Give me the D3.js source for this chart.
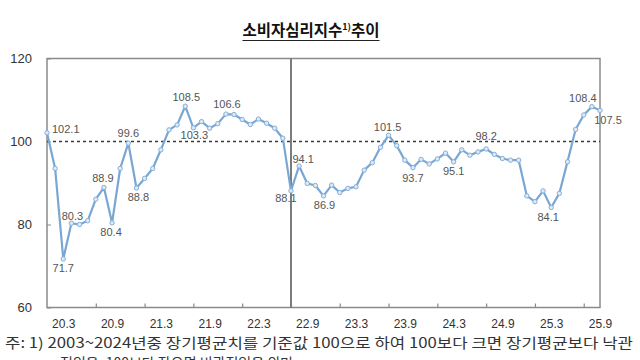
<!DOCTYPE html>
<html><head><meta charset="utf-8">
<script src="https://cdn.jsdelivr.net/npm/d3@7"></script>
<style>
html,body{margin:0;padding:0;background:#fff;}
svg{display:block;}
</style></head>
<body>
<svg id="c" width="640" height="360"></svg>
<script>
// ---- data ----
const months = [
"20.1","20.2","20.3","20.4","20.5","20.6","20.7","20.8","20.9","20.10","20.11","20.12",
"21.1","21.2","21.3","21.4","21.5","21.6","21.7","21.8","21.9","21.10","21.11","21.12",
"22.1","22.2","22.3","22.4","22.5","22.6","22.7","22.8","22.9","22.10","22.11","22.12",
"23.1","23.2","23.3","23.4","23.5","23.6","23.7","23.8","23.9","23.10","23.11","23.12",
"24.1","24.2","24.3","24.4","24.5","24.6","24.7","24.8","24.9","24.10","24.11","24.12",
"25.1","25.2","25.3","25.4","25.5","25.6","25.7","25.8","25.9"];
const values = [
102.1,93.5,71.7,80.3,80.0,80.9,86.1,88.9,80.4,93.5,99.6,88.8,
91.1,93.5,98.0,102.8,104.0,108.5,103.3,104.8,103.2,104.3,106.6,106.5,
105.3,104.1,105.4,104.4,103.2,100.8,88.1,94.1,89.9,89.4,86.9,89.5,
87.7,88.7,89.1,93.1,94.9,98.6,101.5,99.0,95.5,93.7,95.7,94.6,
95.8,97.2,95.1,98.0,96.7,97.5,98.2,96.9,95.9,95.5,95.5,86.9,
85.5,88.1,84.1,87.5,95.1,102.9,106.4,108.4,107.5];
const tickLabels = ["20.3","20.9","21.3","21.9","22.3","22.9","23.3","23.9","24.3","24.9","25.3","25.9"];
const tickMarks = ["20.7","21.1","21.7","22.1","22.7","23.1","23.7","24.1","24.7","25.1","25.7"];
const yTicks = [60,80,100,120];
const labeledMonths = ["20.1","20.3","20.4","20.8","20.9","20.11","20.12","21.6","21.7","21.11",
  "22.7","22.8","22.11","23.7","23.10","24.3","24.7","25.3","25.8","25.9"];
const dividerMonth = "22.7";
const baseline = 100;

// ---- layout / style ----
const L = 47, R = 600, T = 58.5, B = 307.5;
const svg = d3.select("#c");
const x = d3.scalePoint().domain(months).range([L, R]);
const y = d3.scaleLinear().domain([60, 120]).range([B, T]);
const labelOffsets = {
  "20.1":[5,-4,"start"], "20.3":[0,9], "20.4":[1,-7], "20.8":[-1,-9], "20.9":[-1,9],
  "20.11":[0,-10], "20.12":[2,9], "21.6":[1,-9], "21.7":[1,7], "21.11":[1,-10],
  "22.7":[-5,7], "22.8":[4,-7], "22.11":[1,9], "23.7":[-1,-8], "23.10":[0,11],
  "24.3":[0,9], "24.7":[0,-13], "25.3":[-3,10], "25.8":[-9,-8], "25.9":[8,10]
};

// title
const title = svg.append("text").attr("x", 311).attr("y", 36).attr("text-anchor","middle")
  .attr("font-family","'Noto Sans CJK KR', sans-serif").attr("font-weight","bold")
  .attr("font-size",15.5).attr("fill","#111");
title.append("tspan").text("소비자심리지수");
title.append("tspan").attr("font-size",9).attr("dy",-6).text("1)");
title.append("tspan").attr("dy",6).text("추이");
const tb = title.node().getBBox();
svg.append("line").attr("x1",tb.x).attr("x2",tb.x+tb.width).attr("y1",40.5).attr("y2",40.5)
  .attr("stroke","#222").attr("stroke-width",1);

// frame
svg.append("rect").attr("x",L).attr("y",T).attr("width",R-L).attr("height",B-T)
  .attr("fill","none").attr("stroke","#8a8a8a").attr("stroke-width",1.5);

// y axis
const ya = svg.append("g").attr("transform",`translate(${L},0)`)
  .call(d3.axisLeft(y).tickValues(yTicks).tickSize(-4).tickPadding(15).tickFormat(d3.format("d")));
ya.select(".domain").remove();
ya.selectAll("line").attr("stroke","#8a8a8a");
ya.selectAll("text").attr("font-family","'Liberation Sans', Arial, sans-serif").attr("font-size",13).attr("fill","#333");

// x axis labels
const xa = svg.append("g").attr("transform",`translate(0,${B})`)
  .call(d3.axisBottom(x).tickValues(tickLabels).tickSize(0).tickPadding(12));
xa.select(".domain").remove();
xa.selectAll("text").attr("font-family","'Liberation Sans', Arial, sans-serif").attr("font-size",12).attr("fill","#333");
// x tick marks
const xt = svg.append("g").attr("transform",`translate(0,${B})`)
  .call(d3.axisBottom(x).tickValues(tickMarks).tickSize(-4).tickFormat(""));
xt.select(".domain").remove();
xt.selectAll("line").attr("stroke","#8a8a8a").attr("stroke-width",1.2);

// baseline dashed 100
svg.append("line").attr("x1",L).attr("x2",R).attr("y1",y(baseline)).attr("y2",y(baseline))
  .attr("stroke","#3a3a3a").attr("stroke-width",1.4).attr("stroke-dasharray","3,3");

// divider
svg.append("line").attr("x1",x(dividerMonth)).attr("x2",x(dividerMonth)).attr("y1",T).attr("y2",B)
  .attr("stroke","#7a7a7a").attr("stroke-width",2);

// line
const data = months.map((m,i)=>({m, v:values[i]}));
svg.append("path").datum(data)
  .attr("d", d3.line().x(d=>x(d.m)).y(d=>y(d.v)))
  .attr("fill","none").attr("stroke","#79a7d3").attr("stroke-width",2.2).attr("stroke-linejoin","round");
svg.selectAll("circle.pt").data(data).enter().append("circle").attr("class","pt")
  .attr("cx",d=>x(d.m)).attr("cy",d=>y(d.v)).attr("r",2.2)
  .attr("fill","#dce9f6").attr("stroke","#86afd8").attr("stroke-width",1);

// data labels
svg.selectAll("text.dl").data(data.filter(d=>labeledMonths.includes(d.m))).enter().append("text")
  .attr("class","dl")
  .attr("x",d=>x(d.m)+labelOffsets[d.m][0])
  .attr("y",d=>y(d.v)+labelOffsets[d.m][1])
  .attr("dy","0.35em")
  .attr("text-anchor",d=>labelOffsets[d.m][2]||"middle")
  .attr("font-family","'Liberation Sans', Arial, sans-serif").attr("font-size",11).attr("fill","#555")
  .text(d=>d3.format(".1f")(d.v));

// footnote
svg.append("text").attr("x",5).attr("y",348)
  .attr("font-family","'Noto Sans CJK KR', sans-serif").attr("font-size",14).attr("fill","#333")
  .attr("textLength",628).attr("lengthAdjust","spacingAndGlyphs")
  .text("주: 1) 2003~2024년중 장기평균치를 기준값 100으로 하여 100보다 크면 장기평균보다 낙관");
svg.append("text").attr("x",60).attr("y",368)
  .attr("font-family","'Noto Sans CJK KR', sans-serif").attr("font-size",14).attr("fill","#333")
  .text("적임을, 100보다 작으면 비관적임을 의미");
</script>
</body></html>
